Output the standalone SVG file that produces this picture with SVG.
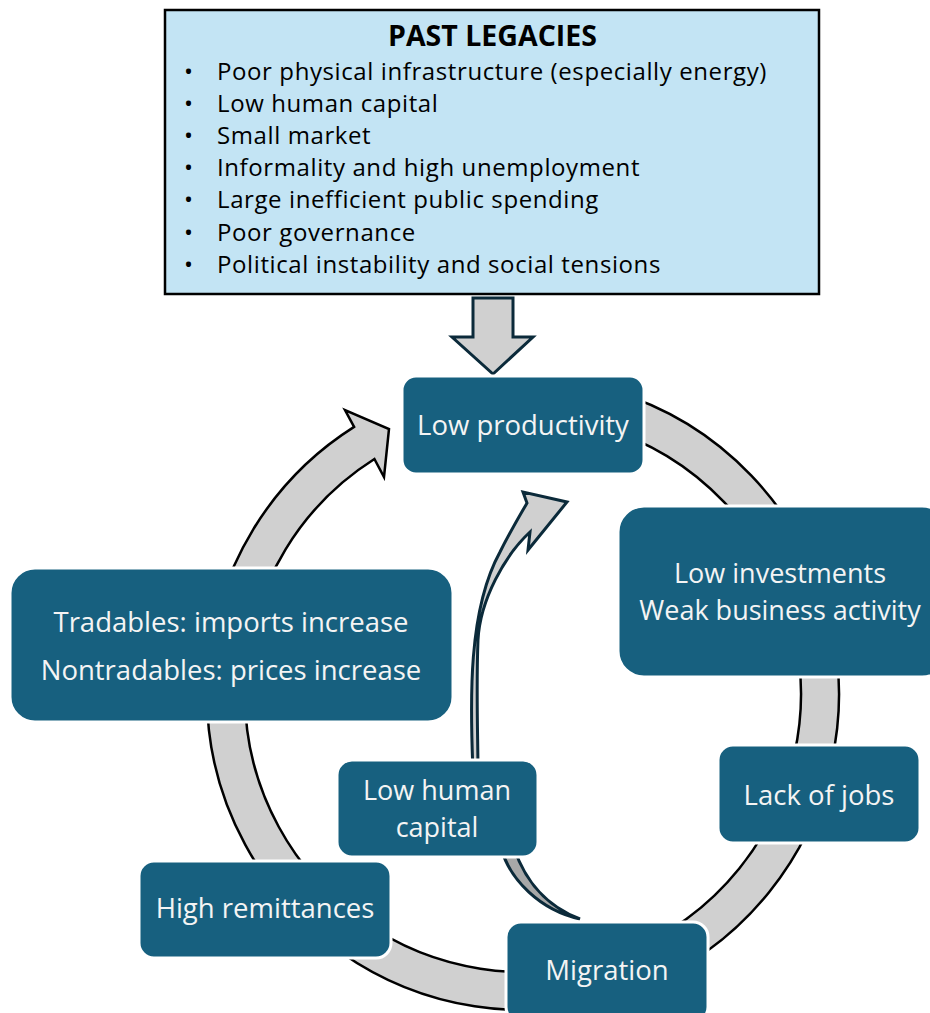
<svg xmlns="http://www.w3.org/2000/svg" width="930" height="1013" viewBox="0 0 930 1013">
  <style>
    .node rect { fill: #17607f; stroke: #ffffff; stroke-width: 3; }
    .node text { fill: #f4f4f4; font-family: "Open Sans", "Noto Sans", sans-serif; font-size: 27.5px; text-anchor: middle; }
    .node text.two { font-size: 27px; }
    .legacy text { fill: #000000; font-family: "Open Sans", "Noto Sans", sans-serif; font-size: 24px; letter-spacing: 0.6px; }
    .legacy text.title { font-size: 28px; font-weight: bold; letter-spacing: 0; }
    .ring { fill: #d0d0d0; stroke: #000000; stroke-width: 2.5; stroke-linejoin: miter; }
    .inner { fill: #d0d0d0; stroke: #0b2a3a; stroke-width: 3; stroke-linejoin: miter; }
    .inner-back { fill: #a8a8a8; stroke: #0b2a3a; stroke-width: 3; }
  </style>

  <!-- header box with bullet list -->
  <g id="past-legacies" class="legacy">
    <rect x="165" y="10" width="654" height="284" fill="#c3e4f4" stroke="#000000" stroke-width="2.5"/>
    <text class="title" x="388" y="46" textLength="209" lengthAdjust="spacingAndGlyphs">PAST LEGACIES</text>
    <g>
      <text x="184" y="80">•</text><text x="217" y="80">Poor physical infrastructure (especially energy)</text>
      <text x="184" y="112">•</text><text x="217" y="112">Low human capital</text>
      <text x="184" y="144">•</text><text x="217" y="144">Small market</text>
      <text x="184" y="176">•</text><text x="217" y="176">Informality and high unemployment</text>
      <text x="184" y="208">•</text><text x="217" y="208">Large inefficient public spending</text>
      <text x="184" y="241">•</text><text x="217" y="241">Poor governance</text>
      <text x="184" y="273">•</text><text x="217" y="273">Political instability and social tensions</text>
    </g>
  </g>

  <!-- connectors -->
  <g id="connectors">
    <!-- block arrow from header down into the cycle -->
    <path class="inner" d="M473 298 H513 V337 H533 L493 374 L452 337 H473 Z"/>
    <!-- main circular cycle arrow (clockwise) -->
    <path class="ring" d="M468.1 382.8 A316 316 0 1 1 354.1 426.9 L345 410 L389 429 L384 477 L374.4 459 A278 278 0 1 0 474.7 420.2 Z"/>
    <!-- inner curved arrow: shaded back part -->
    <path class="inner-back" d="M501 848 C510 880, 540 910, 580 919 C556 910, 528 890, 514 848 Z"/>
    <!-- inner curved arrow: front part with head -->
    <path class="inner" d="M473 772 C470 700, 468 610, 500 552 C510 532, 520 515, 527 503 L523 492 L567 502 L528 550 L530 532 C505 555, 480 600, 478 640 C476 690, 478 740, 478 772 Z"/>
  </g>

  <!-- cycle nodes -->
  <g id="low-productivity" class="node">
    <rect x="402" y="376" width="242" height="98" rx="14"/>
    <text x="523" y="435">Low productivity</text>
  </g>
  <g id="low-investments" class="node">
    <rect x="618" y="506" width="330" height="171" rx="26"/>
    <text class="two" x="780" y="583">Low investments</text>
    <text class="two" x="780" y="620">Weak business activity</text>
  </g>
  <g id="lack-of-jobs" class="node">
    <rect x="718" y="745" width="202" height="98" rx="15"/>
    <text x="819" y="805">Lack of jobs</text>
  </g>
  <g id="migration" class="node">
    <rect x="506" y="922" width="202" height="100" rx="15"/>
    <text x="607" y="980">Migration</text>
  </g>
  <g id="high-remittances" class="node">
    <rect x="139" y="861" width="252" height="97" rx="15"/>
    <text x="265" y="918">High remittances</text>
  </g>
  <g id="low-human-capital" class="node">
    <rect x="337" y="760" width="201" height="97" rx="15"/>
    <text class="two" x="437" y="800">Low human</text>
    <text class="two" x="437" y="837">capital</text>
  </g>
  <g id="tradables" class="node">
    <rect x="10" y="568" width="443" height="154" rx="25"/>
    <text x="231" y="632">Tradables: imports increase</text>
    <text x="231" y="680">Nontradables: prices increase</text>
  </g>
</svg>
